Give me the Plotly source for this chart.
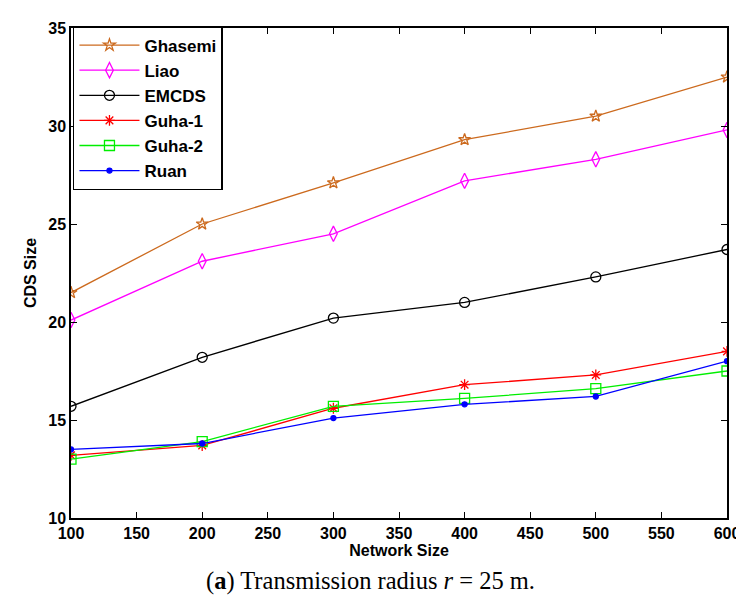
import plotly.graph_objects as go

network_size = [100, 200, 300, 400, 500, 600]

ghasemi = [21.5, 25.0, 27.1, 29.3, 30.5, 32.5]
liao = [20.1, 23.1, 24.5, 27.2, 28.3, 29.8]
emcds = [15.7, 18.2, 20.2, 21.0, 22.3, 23.7]
guha1 = [13.2, 13.7, 15.6, 16.8, 17.3, 18.5]
guha2 = [13.0, 13.9, 15.7, 16.1, 16.6, 17.5]
ruan = [13.5, 13.8, 15.1, 15.8, 16.2, 18.0]

series = [
    ('Ghasemi', ghasemi, '#CC6A1E', 'star-open', 9),
    ('Liao', liao, '#FF00FF', 'diamond-tall-open', 11),
    ('EMCDS', emcds, '#000000', 'circle-open', 10),
    ('Guha-1', guha1, '#FF0000', 'asterisk-open', 9),
    ('Guha-2', guha2, '#00EE00', 'square-open', 10),
    ('Ruan', ruan, '#0000FF', 'circle', 5),
]

fig = go.Figure()
for name, vals, col, sym, sz in series:
    fig.add_trace(go.Scatter(
        x=network_size, y=vals, name=name, mode='lines+markers',
        line=dict(color=col, width=1.3),
        marker=dict(symbol=sym, size=sz, color=col, line=dict(color=col, width=1.3)),
    ))

bold_font = dict(family='Liberation Sans, Arial', size=16, color='black', weight='bold')
common = dict(showline=True, mirror='ticks', linecolor='black', linewidth=1.5,
              ticks='inside', ticklen=6, tickcolor='black', tickwidth=1,
              showgrid=False, zeroline=False, tickfont=bold_font)

fig.update_xaxes(range=[100, 600], dtick=50, tick0=100,
                 title=dict(text='Network Size', standoff=2, font=bold_font),
                 **common)
fig.update_yaxes(range=[10, 35], dtick=5,
                 title=dict(text='CDS Size', standoff=8, font=bold_font),
                 **common)

fig.update_layout(
    width=744, height=606,
    margin=dict(l=63, r=21, t=17, b=96),
    plot_bgcolor='white', paper_bgcolor='white',
    legend=dict(x=0.003, y=1.004, xanchor='left', yanchor='top',
                bordercolor='black', borderwidth=1.5, bgcolor='white',
                itemwidth=60, tracegroupgap=0,
                font=dict(family='Liberation Sans, Arial', size=17, color='black', weight='bold')),
    annotations=[dict(
        text='(<b>a</b>) Transmission radius <i>r</i> = 25 m.',
        xref='paper', yref='paper', x=0.457, y=-0.128,
        xanchor='center', yanchor='middle', showarrow=False,
        font=dict(family='Liberation Serif, Times New Roman', size=24.5, color='black'),
    )],
)

fig.write_html("out.html")
